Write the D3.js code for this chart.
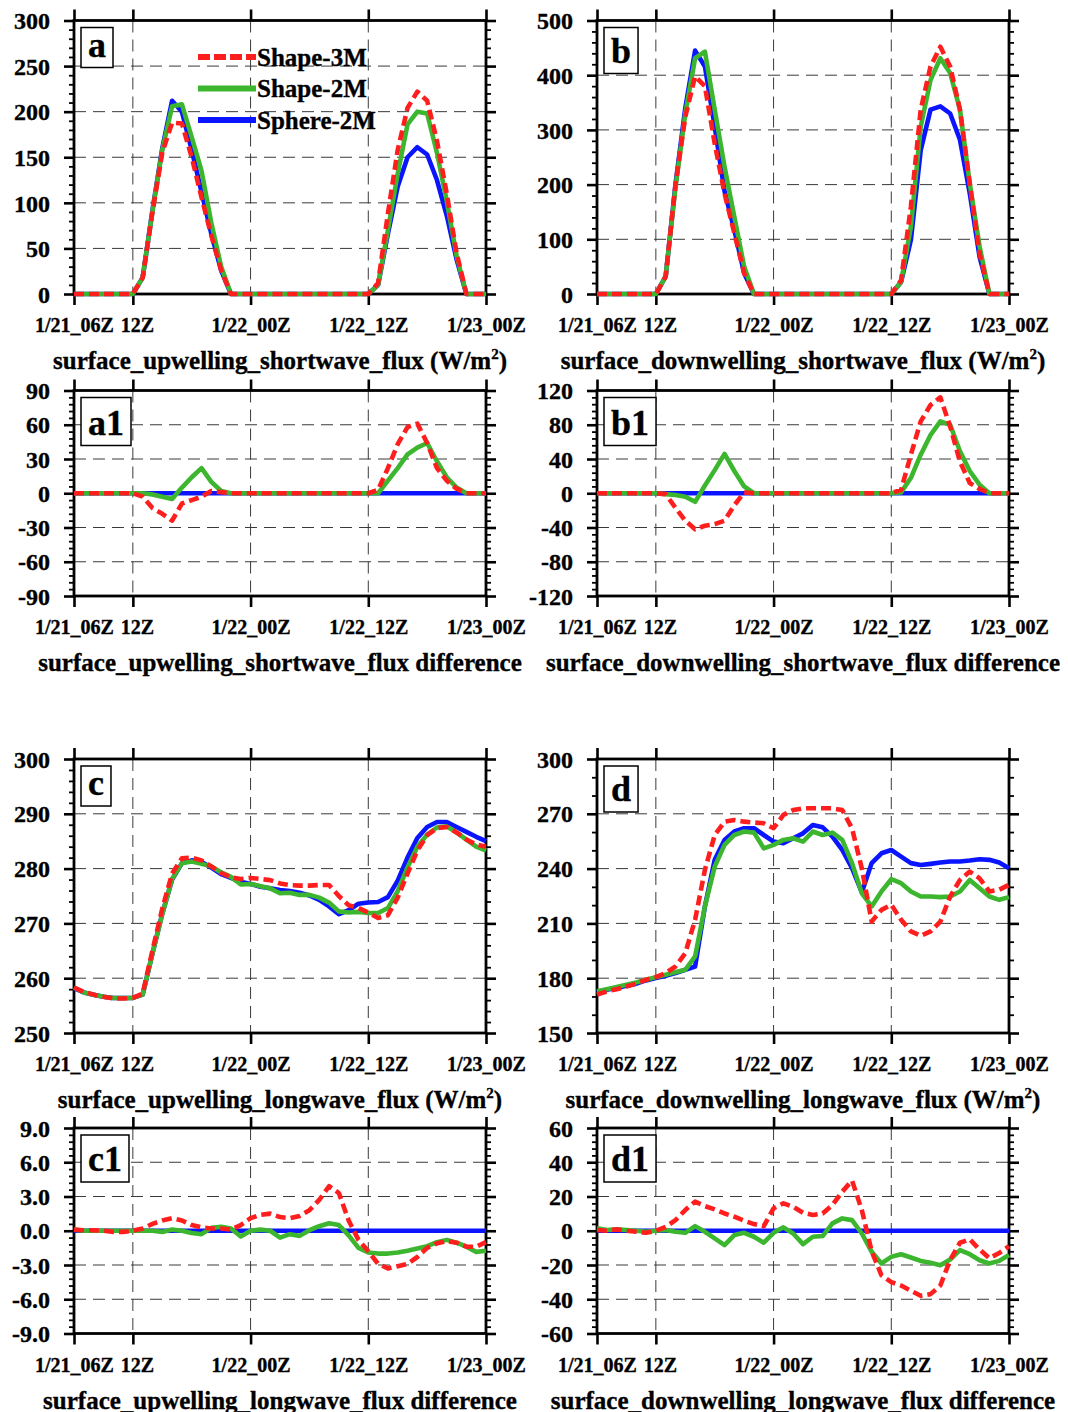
<!DOCTYPE html>
<html>
<head>
<meta charset="utf-8">
<script src="https://cdn.jsdelivr.net/npm/d3@7"></script>
<style>
  body { margin: 0; background: #fff; }
  svg { display: block; }
  text { font-family: "Liberation Serif", "Times New Roman", serif; font-weight: bold; fill: #000;
         stroke: #000; stroke-width: 0.35px; paint-order: stroke; }
</style>
</head>
<body>
<svg id="fig" width="1068" height="1412"></svg>
<script>
// Hourly time axis: hour 0 = 1/21_06Z ... hour 42 = 1/23_00Z
const hours = d3.range(0, 43);
const timeTicks = [0, 6, 18, 30, 42];
const timeTickLabels = ["1/21_06Z", "12Z", "1/22_00Z", "1/22_12Z", "1/23_00Z"];

const seriesNames = ["Shape-3M", "Shape-2M", "Sphere-2M"];
const seriesColors = ["#ff1e1e", "#3cb52f", "#0a14ff"];

// (a) surface upwelling shortwave flux (W/m2)
const upSW_shape3M  = [0,0,0,0,0,0,0, 18,90,155,188,187,150,106,64,26,0, 0,0,0,0,0,0,0,0,0,0,0,0,0,0, 12,88,158,204,222,212,168,110,45,0,0,0];
const upSW_shape2M  = [0,0,0,0,0,0,0, 18,91,158,206,208,172,135,78,30,0, 0,0,0,0,0,0,0,0,0,0,0,0,0,0, 10,70,132,186,200,198,155,102,42,0,0,0];
const upSW_sphere2M = [0,0,0,0,0,0,0, 18,92,160,212,200,158,112,66,26,0, 0,0,0,0,0,0,0,0,0,0,0,0,0,0, 10,66,118,150,161,153,125,86,38,0,0,0];

// (b) surface downwelling shortwave flux (W/m2)
const dnSW_shape3M  = [0,0,0,0,0,0,0, 32,200,324,398,380,275,184,111,38,0, 0,0,0,0,0,0,0,0,0,0,0,0,0,0, 25,160,337,416,452,416,337,202,74,0,0,0];
const dnSW_shape2M  = [0,0,0,0,0,0,0, 32,195,330,431,443,337,233,141,50,0, 0,0,0,0,0,0,0,0,0,0,0,0,0,0, 22,123,306,391,431,404,337,202,87,0,0,0];
const dnSW_sphere2M = [0,0,0,0,0,0,0, 32,200,340,445,416,306,188,117,38,0, 0,0,0,0,0,0,0,0,0,0,0,0,0,0, 22,99,263,337,343,330,282,184,68,0,0,0];

// (a1) upwelling shortwave difference against Sphere-2M
const upSWdiff_shape3M  = [0,0,0,0,0,0,0, -3,-13,-18,-24,-9,-6,-3,2,1,0, 0,0,0,0,0,0,0,0,0,0,0,0,0,0, 3,22,43,58,61,44,22,11,4,0,0,0];
const upSWdiff_shape2M  = [0,0,0,0,0,0,0, 0,-1,-3,-5,5,14,22,10,2,0, 0,0,0,0,0,0,0,0,0,0,0,0,0,0, 0,11,22,34,40,44,28,14,5,0,0,0];
const upSWdiff_sphere2M = [0,0,0,0,0,0,0, 0,0,0,0,0,0,0,0,0,0, 0,0,0,0,0,0,0,0,0,0,0,0,0,0, 0,0,0,0,0,0,0,0,0,0,0,0];

// (b1) downwelling shortwave difference against Sphere-2M
const dnSWdiff_shape3M  = [0,0,0,0,0,0,0, -1,-17,-32,-42,-38,-36,-32,-14,1,0, 0,0,0,0,0,0,0,0,0,0,0,0,0,0, 4,45,84,103,112,78,37,12,5,0,0,0];
const dnSWdiff_shape2M  = [0,0,0,0,0,0,0, -1,-2,-4,-10,9,27,46,26,8,0, 0,0,0,0,0,0,0,0,0,0,0,0,0,0, 1,18,45,68,84,80,49,26,10,0,0,0];
const dnSWdiff_sphere2M = [0,0,0,0,0,0,0, 0,0,0,0,0,0,0,0,0,0, 0,0,0,0,0,0,0,0,0,0,0,0,0,0, 0,0,0,0,0,0,0,0,0,0,0,0];

// (c) surface upwelling longwave flux (W/m2)
const upLW_shape3M  = [258.3,257.5,257.0,256.6,256.3,256.3,256.4,257.2,265.1,272.7,279.1,281.9,282.0,281.5,280.4,279.2,278.4,278.1,278.3,278.1,277.9,277.3,277.0,276.9,276.9,277.0,277.0,275.0,273.3,272.8,272.0,271.0,271.5,274.7,279.1,283.3,286.1,287.4,287.6,286.6,285.3,284.4,284.0];
const upLW_shape2M  = [258.3,257.4,257.0,256.6,256.4,256.4,256.4,257.0,264.5,271.7,278.1,281.0,281.3,280.9,280.4,279.3,278.5,277.1,277.2,276.8,276.4,275.5,275.6,275.2,275.2,274.7,273.8,272.2,272.0,272.1,271.9,271.9,272.8,275.9,280.2,284.0,286.2,287.5,287.7,286.6,285.3,284.0,283.3];
const upLW_sphere2M = [258.2,257.4,257.0,256.6,256.4,256.4,256.4,257.0,264.5,271.8,278.0,281.0,281.5,281.2,280.2,279.0,278.3,277.6,277.2,276.7,276.4,276.1,275.9,275.6,275.1,274.3,273.1,271.7,272.4,273.6,273.8,273.9,274.8,277.8,282.0,285.6,287.6,288.5,288.5,287.6,286.7,285.8,285.0];

// (d) surface downwelling longwave flux (W/m2)
const dnLW_shape3M  = [171.0,172.8,174.0,175.5,177.0,179.2,180.6,182.8,186.4,193.7,212.0,239.3,258.4,265.7,266.6,265.7,265.2,264.8,262.1,269.4,272.1,273.0,273.0,273.0,273.0,272.1,262.0,240.0,211.0,217.4,220.2,212.0,205.6,203.2,205.6,211.0,224.7,233.8,238.4,234.7,227.5,228.4,231.1];
const dnLW_shape2M  = [172.8,174.0,175.2,176.4,177.7,179.2,180.6,181.9,183.2,184.6,191.9,219.3,241.1,253.0,258.4,260.3,259.7,251.1,253.0,255.7,256.6,254.8,260.3,258.4,259.7,255.7,243.0,226.5,219.3,227.5,234.2,232.0,227.5,224.7,224.7,224.4,224.7,227.5,233.8,229.3,224.7,222.9,224.4];
const dnLW_sphere2M = [171.9,173.7,174.6,175.9,177.0,178.8,180.1,181.3,182.8,184.6,186.4,219.3,244.8,255.7,260.3,262.1,262.1,258.4,254.8,253.9,256.6,259.3,263.9,262.6,257.5,250.2,240.2,227.0,243.0,248.4,250.2,246.6,243.0,242.0,242.6,243.3,243.9,243.9,244.4,245.1,244.8,243.3,240.2];

// (c1) upwelling longwave difference against Sphere-2M
const upLWdiff_shape3M  = [0.1,0.05,0.05,0,-0.1,-0.1,0,0.2,0.6,0.9,1.1,0.9,0.5,0.3,0.2,0.2,0.1,0.5,1.1,1.4,1.5,1.2,1.1,1.3,1.8,2.7,3.9,3.3,0.9,-0.8,-1.8,-2.9,-3.3,-3.1,-2.9,-2.3,-1.5,-1.1,-0.9,-1.05,-1.4,-1.4,-1.0];
const upLWdiff_shape2M  = [0.1,0,0,0,0,0,0,0,0,-0.1,0.1,0,-0.2,-0.3,0.25,0.35,0.2,-0.5,0,0.1,0,-0.6,-0.3,-0.45,0.05,0.4,0.65,0.5,-0.4,-1.5,-1.9,-2.0,-2.0,-1.9,-1.75,-1.55,-1.35,-1.0,-0.8,-1.05,-1.4,-1.85,-1.75];
const upLWdiff_sphere2M = [0,0,0,0,0,0,0,0,0,0,0,0,0,0,0,0,0,0,0,0,0,0,0,0,0,0,0,0,0,0,0,0,0,0,0,0,0,0,0,0,0,0,0];

// (d1) downwelling longwave difference against Sphere-2M
const dnLWdiff_shape3M  = [0.4,0,0.8,0,-0.6,-1.2,0,2.3,6.2,12.1,17.0,14.4,12.5,10.1,8.2,5.9,3.9,2.7,13.1,16.0,14.0,10.5,9.2,10.1,15.0,22.8,29.3,12.0,-12.0,-26.0,-30.0,-32.0,-35.0,-38.0,-37.0,-32.0,-17.0,-7.0,-5.0,-11.0,-16.0,-13.0,-9.0];
const dnLWdiff_shape2M  = [1.4,0.4,0.8,0.4,0,-0.6,0,0.4,-0.6,-1.2,2.7,-0.6,-4.5,-8.4,-2.5,-1.2,-3.5,-7.0,-1.2,2.0,-1.6,-7.8,-3.5,-3.1,4.3,7.2,6.2,-1.6,-12.3,-19.1,-15.2,-13.7,-15.6,-17.6,-18.7,-20.1,-16.8,-11.3,-13.7,-17.2,-19.1,-17.6,-14.2];
const dnLWdiff_sphere2M = [0,0,0,0,0,0,0,0,0,0,0,0,0,0,0,0,0,0,0,0,0,0,0,0,0,0,0,0,0,0,0,0,0,0,0,0,0,0,0,0,0,0,0];

// ---- layout ----
const svg = d3.select("#fig");
svg.append("rect").attr("width", 1068).attr("height", 1412).attr("fill", "#fff");

const PW = 412;                       // plot width
const COL = [74, 597];                // plot left edges
const ROW = {                         // plot top edge and height
  main1: { top: 20.5, h: 273.5 },
  diff1: { top: 390.5, h: 205.5 },
  main2: { top: 759, h: 274 },
  diff2: { top: 1128, h: 205.5 }
};

// tick labels use a plain hyphen for negative numbers
const hyphenLocale = d3.formatLocale({ decimal: ".", thousands: ",", grouping: [3], currency: ["", ""], minus: "-" });
const intFmt = hyphenLocale.format("d");
const oneDecFmt = hyphenLocale.format(".1f");

const panels = [
  { id: "a",  col: 0, row: "main1", domain: [0, 300],   major: 50,  minor: 10,  fmt: intFmt,
    series: [upSW_shape3M, upSW_shape2M, upSW_sphere2M], title: "surface_upwelling_shortwave_flux", units: true, boxH: 40, legend: true },
  { id: "b",  col: 1, row: "main1", domain: [0, 500],   major: 100, minor: 20,  fmt: intFmt,
    series: [dnSW_shape3M, dnSW_shape2M, dnSW_sphere2M], title: "surface_downwelling_shortwave_flux", units: true, boxH: 46 },
  { id: "a1", col: 0, row: "diff1", domain: [-90, 90], major: 30,  minor: 6,   fmt: intFmt,
    series: [upSWdiff_shape3M, upSWdiff_shape2M, upSWdiff_sphere2M], title: "surface_upwelling_shortwave_flux difference", units: false, boxH: 48 },
  { id: "b1", col: 1, row: "diff1", domain: [-120, 120], major: 40, minor: 8,   fmt: intFmt,
    series: [dnSWdiff_shape3M, dnSWdiff_shape2M, dnSWdiff_sphere2M], title: "surface_downwelling_shortwave_flux difference", units: false, boxH: 48 },
  { id: "c",  col: 0, row: "main2", domain: [250, 300], major: 10,  minor: 2,   fmt: intFmt,
    series: [upLW_shape3M, upLW_shape2M, upLW_sphere2M], title: "surface_upwelling_longwave_flux", units: true, boxH: 40 },
  { id: "d",  col: 1, row: "main2", domain: [150, 300], major: 30,  minor: 10,  fmt: intFmt,
    series: [dnLW_shape3M, dnLW_shape2M, dnLW_sphere2M], title: "surface_downwelling_longwave_flux", units: true, boxH: 46 },
  { id: "c1", col: 0, row: "diff2", domain: [-9, 9],    major: 3,   minor: 0.6, fmt: oneDecFmt,
    series: [upLWdiff_shape3M, upLWdiff_shape2M, upLWdiff_sphere2M], title: "surface_upwelling_longwave_flux difference", units: false, boxH: 47 },
  { id: "d1", col: 1, row: "diff2", domain: [-60, 60],  major: 20,  minor: 4,   fmt: intFmt,
    series: [dnLWdiff_shape3M, dnLWdiff_shape2M, dnLWdiff_sphere2M], title: "surface_downwelling_longwave_flux difference", units: false, boxH: 47 }
];

const near = (a, b) => Math.abs(a - b) < 1e-6;

function drawPanel(p) {
  const x0 = COL[p.col], y0 = ROW[p.row].top, ph = ROW[p.row].h;
  const g = svg.append("g");
  const x = d3.scaleLinear().domain([0, 42]).range([x0, x0 + PW]);
  const y = d3.scaleLinear().domain(p.domain).range([y0 + ph, y0]);

  const nMaj = Math.round((p.domain[1] - p.domain[0]) / p.major);
  const majors = d3.range(nMaj + 1).map(i => p.domain[0] + i * p.major);
  const nMin = Math.round((p.domain[1] - p.domain[0]) / p.minor);
  const minors = d3.range(nMin + 1).map(i => p.domain[0] + i * p.minor)
    .filter(v => !majors.some(m => near(m, v)));

  // dashed reference grid at inner major ticks
  const grid = g.append("g").attr("stroke", "#3a3a3a").attr("stroke-width", 1).attr("stroke-dasharray", "12,7");
  grid.selectAll("line.h").data(majors.slice(1, -1)).join("line")
    .attr("x1", x0).attr("x2", x0 + PW).attr("y1", d => y(d)).attr("y2", d => y(d));
  grid.selectAll("line.v").data(timeTicks.slice(1, -1)).join("line")
    .attr("y1", y0).attr("y2", y0 + ph).attr("x1", d => x(d)).attr("x2", d => x(d));

  // axes: major ticks with labels, minor ticks without
  const styleAxis = (sel, w) => {
    sel.select(".domain").remove();
    sel.selectAll(".tick line").attr("stroke", "#000").attr("stroke-width", w);
  };
  const left = g.append("g").attr("transform", `translate(${x0},0)`)
    .call(d3.axisLeft(y).tickValues(majors).tickFormat(p.fmt).tickSize(10).tickPadding(14));
  styleAxis(left, 2.6);
  left.selectAll("text").attr("font-size", 24).attr("dy", "0.34em");
  const leftMin = g.append("g").attr("transform", `translate(${x0},0)`)
    .call(d3.axisLeft(y).tickValues(minors).tickFormat("").tickSize(5));
  styleAxis(leftMin, 1.8);
  const right = g.append("g").attr("transform", `translate(${x0 + PW},0)`)
    .call(d3.axisRight(y).tickValues(majors).tickFormat("").tickSize(10));
  styleAxis(right, 2.6);
  const rightMin = g.append("g").attr("transform", `translate(${x0 + PW},0)`)
    .call(d3.axisRight(y).tickValues(minors).tickFormat("").tickSize(5));
  styleAxis(rightMin, 1.8);

  const bottom = g.append("g").attr("transform", `translate(0,${y0 + ph})`)
    .call(d3.axisBottom(x).tickValues(timeTicks).tickFormat((d, i) => timeTickLabels[i]).tickSize(11).tickPadding(13));
  styleAxis(bottom, 2.6);
  bottom.selectAll("text").attr("font-size", 20).attr("dx", (d, i) => i === 1 ? 4 : 0);
  const top = g.append("g").attr("transform", `translate(0,${y0})`)
    .call(d3.axisTop(x).tickValues(timeTicks).tickFormat("").tickSize(11));
  styleAxis(top, 2.6);
  g.selectAll(".tick text").attr("font-family", null);

  // frame
  g.append("rect").attr("x", x0).attr("y", y0).attr("width", PW).attr("height", ph)
    .attr("fill", "none").attr("stroke", "#000").attr("stroke-width", 2.8);

  // series: Sphere-2M first, then Shape-2M, Shape-3M dashed on top
  const line = d3.line().x((d, i) => x(hours[i])).y(d => y(d));
  [2, 1, 0].forEach(k => {
    g.append("path").datum(p.series[k]).attr("d", line)
      .attr("fill", "none").attr("stroke", seriesColors[k]).attr("stroke-width", 4.6)
      .attr("stroke-linejoin", "round")
      .attr("stroke-dasharray", k === 0 ? "10,5" : null);
  });

  // panel tag in a framed box
  const tag = g.append("g");
  const tagText = tag.append("text").attr("font-size", 36).attr("text-anchor", "middle").text(p.id);
  const tw = tagText.node().getComputedTextLength();
  const bw = tw + 14, bx = x0 + 7, by = y0 + 7;
  tag.insert("rect", "text").attr("x", bx).attr("y", by).attr("width", bw).attr("height", p.boxH)
    .attr("fill", "#fff").attr("stroke", "#000").attr("stroke-width", 1.5);
  tagText.attr("x", bx + bw / 2).attr("y", by + p.boxH - 11);

  // axis title under the time labels
  const t = g.append("text").attr("x", x0 + PW / 2).attr("y", y0 + ph + 75)
    .attr("text-anchor", "middle").attr("font-size", 25);
  if (p.units) {
    t.append("tspan").text(p.title + " (W/m");
    t.append("tspan").attr("font-size", 15).attr("dy", -10).text("2");
    t.append("tspan").attr("dy", 10).text(")");
  } else {
    t.text(p.title);
  }

  if (p.legend) {
    const lg = g.append("g");
    seriesNames.forEach((name, k) => {
      const ly = y0 + 36.5 + k * 31.5;
      lg.append("line").attr("x1", x0 + 124).attr("x2", x0 + 182).attr("y1", ly).attr("y2", ly)
        .attr("stroke", seriesColors[k]).attr("stroke-width", 6)
        .attr("stroke-dasharray", k === 0 ? "12,4" : null);
      lg.append("text").attr("x", x0 + 183).attr("y", ly + 8.5).attr("font-size", 25).text(name);
    });
  }
}

panels.forEach(drawPanel);
</script>
</body>
</html>
